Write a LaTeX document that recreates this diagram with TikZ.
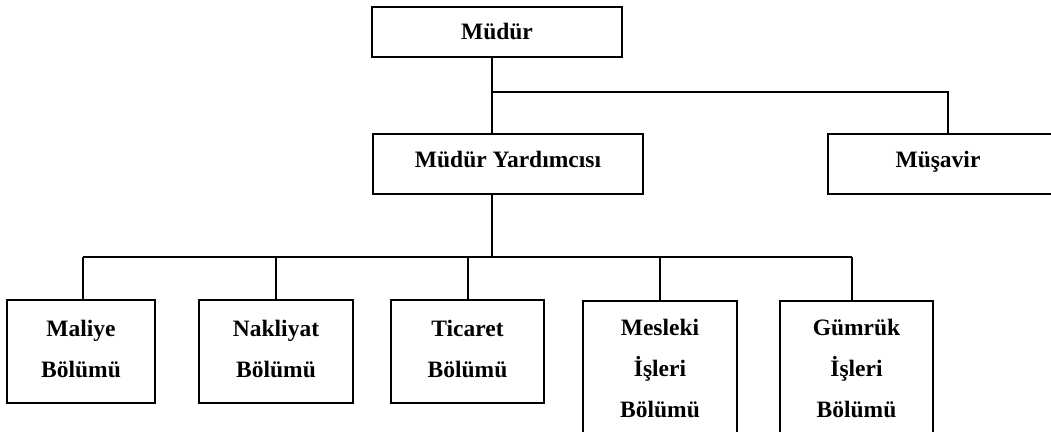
\documentclass[tikz,border=0pt]{standalone}
\usepackage{fontspec}
\setmainfont{Liberation Serif}
\begin{document}
\begin{tikzpicture}[x=1pt,y=-1pt,
  box/.style={draw, line width=1.6pt, inner sep=2pt, align=center,
    font=\bfseries\fontsize{23.5}{41}\selectfont},
  link/.style={line width=1.3pt}]
\useasboundingbox (0,0) rectangle (1051,431);

% top level
\node[box, minimum width=250pt, minimum height=50pt, text height=16pt, text depth=2pt] (mudur) at (497,32) {Müdür};

% second level (the adviser box runs past the right margin)
\node[box, minimum width=270pt, minimum height=60pt, text height=16pt, text depth=10pt] (yard) at (508,164) {Müdür Yardımcısı};
\node[box, minimum width=240pt, minimum height=60pt, text height=16pt, text depth=10pt] (musavir) at (948,164) {Müşavir\hspace*{20pt}};

% departments
\node[box, minimum width=148pt, minimum height=103pt] (maliye) at (81,351.5) {Maliye\\Bölümü\rule[-6pt]{0pt}{0pt}};
\node[box, minimum width=154pt, minimum height=103pt] (nakliyat) at (276,351.5) {Nakliyat\\Bölümü\rule[-6pt]{0pt}{0pt}};
\node[box, minimum width=153pt, minimum height=103pt] (ticaret) at (467.5,351.5) {Ticaret\\Bölümü\rule[-6pt]{0pt}{0pt}};
\node[box, minimum width=154pt, minimum height=140pt] (mesleki) at (660,371) {Mesleki\\İşleri\\Bölümü\rule[-6pt]{0pt}{0pt}};
\node[box, minimum width=153pt, minimum height=140pt] (gumruk) at (856.5,371) {Gümrük\\İşleri\\Bölümü\rule[-6pt]{0pt}{0pt}};

% junction points
\coordinate (t1) at (492,92);
\coordinate (m1) at (948,92);
\coordinate (t2) at (492,257);
\coordinate (b1) at (83,257);
\coordinate (b2) at (276,257);
\coordinate (b3) at (468,257);
\coordinate (b4) at (660,257);
\coordinate (b5) at (852,257);

% connectors
\draw[link] (mudur.south -| t1) -- (yard.north -| t1);
\draw[link] (t1) -- (m1) -- (musavir.north -| m1);
\draw[link] (yard.south -| t2) -- (t2);
\draw[link] (b1) -- (b5);
\draw[link] (b1) -- (maliye.north -| b1);
\draw[link] (b2) -- (nakliyat.north -| b2);
\draw[link] (b3) -- (ticaret.north -| b3);
\draw[link] (b4) -- (mesleki.north -| b4);
\draw[link] (b5) -- (gumruk.north -| b5);
\end{tikzpicture}
\end{document}
